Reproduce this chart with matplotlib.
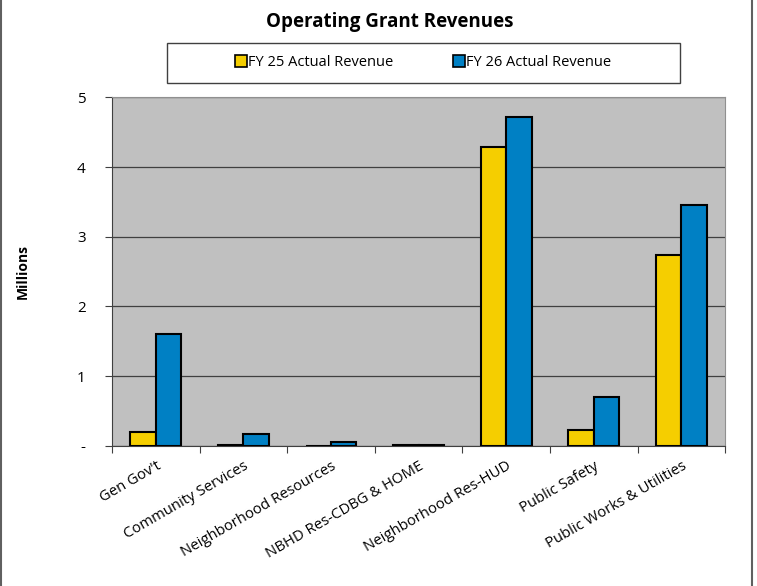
import matplotlib.pyplot as plt
import numpy as np
from matplotlib.patches import Rectangle
from matplotlib.lines import Line2D

plt.rcParams['font.family'] = ['Open Sans', 'DejaVu Sans']

categorias = ["Gen Gov't", "Community Services", "Neighborhood Resources",
              "NBHD Res-CDBG & HOME", "Neighborhood Res-HUD", "Public Safety",
              "Public Works & Utilities"]
fy25 = [0.20, 0.01, 0.00, 0.01, 4.28, 0.23, 2.74]
fy26 = [1.60, 0.17, 0.06, 0.01, 4.71, 0.70, 3.45]
etiquetas_y = ["-", "1", "2", "3", "4", "5"]

amarillo = "#F5CE00"
azul = "#0080C4"

fig = plt.figure(figsize=(7.57, 5.86), dpi=100)
ax = fig.add_axes([0.148, 0.239, 0.81, 0.595])
ax.set_facecolor("#C0C0C0")

x = np.arange(len(categorias))
ancho = 0.29
ax.bar(x - ancho / 2, fy25, ancho, color=amarillo, edgecolor="black", linewidth=1.5, zorder=3)
ax.bar(x + ancho / 2, fy26, ancho, color=azul, edgecolor="black", linewidth=1.5, zorder=3)

ax.set_xlim(-0.5, len(categorias) - 0.5)
ax.set_ylim(0, 5)
ax.set_yticks(range(6))
ax.set_yticklabels(etiquetas_y, fontsize=11)
ax.yaxis.grid(True, color="#404040", linewidth=0.9, zorder=0)

ax.set_xticks(np.arange(len(categorias) + 1) - 0.5)
ax.set_xticklabels([])
ax.set_xticks(x, minor=True)
ax.set_xticklabels(categorias, minor=True, rotation=30, ha="right",
                   rotation_mode="anchor", fontsize=10.7)
ax.tick_params(axis="x", which="minor", length=0, pad=9)
ax.tick_params(axis="x", which="major", length=5, color="#404040")
ax.tick_params(axis="y", length=5, color="#404040", pad=14)

for lado in ["top", "right"]:
    ax.spines[lado].set_color("#909090")
ax.spines["left"].set_color("#404040")
ax.spines["bottom"].set_color("#404040")

ax.set_ylabel("Millions", fontsize=10, fontweight="bold")
ax.yaxis.set_label_coords(-0.135, 0.5)

fig.text(0.515, 0.962, "Operating Grant Revenues", ha="center", va="center",
         fontsize=13.5, fontweight="bold")

fig.patches.append(Rectangle((0.2206, 0.858), 0.678, 0.069, transform=fig.transFigure,
                             facecolor="white", edgecolor="#404040", linewidth=1))
handles = [Line2D([], [], marker="s", linestyle="none", markersize=8,
                  markerfacecolor=amarillo, markeredgecolor="black", markeredgewidth=1.2),
           Line2D([], [], marker="s", linestyle="none", markersize=8,
                  markerfacecolor=azul, markeredgecolor="black", markeredgewidth=1.2)]
fig.legend(handles, ["FY 25 Actual Revenue", "FY 26 Actual Revenue"], ncol=2,
           loc="center", bbox_to_anchor=(0.558, 0.8925), frameon=False, fontsize=10.5,
           handletextpad=0.0, columnspacing=4.0, handlelength=1.0)

fig.add_artist(Line2D([0.001, 0.001], [0, 1], color="#606060", linewidth=1.5))
fig.add_artist(Line2D([0.994, 0.994], [0, 1], color="#606060", linewidth=1.5))

plt.savefig("out.png")
